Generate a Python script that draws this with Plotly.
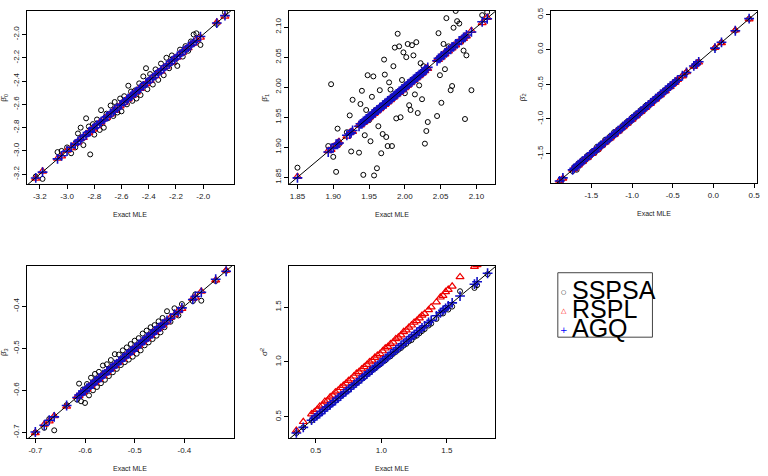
import plotly.graph_objects as go

# ---------------- data ----------------
# Panel 1: beta0
exact_b0 = [-3.23,-3.18,-3.07,-3.04,-3.00,-2.97,-2.94,-2.92,-2.90,-2.88,
            -2.86,-2.84,-2.83,-2.81,-2.80,-2.78,-2.76,-2.75,-2.73,-2.71,
            -2.70,-2.68,-2.66,-2.65,-2.63,-2.61,-2.60,-2.58,-2.56,-2.55,
            -2.53,-2.52,-2.50,-2.49,-2.47,-2.46,-2.44,-2.42,-2.41,-2.39,
            -2.37,-2.35,-2.33,-2.31,-2.29,-2.27,-2.25,-2.23,-2.21,-2.19,
            -2.17,-2.15,-2.13,-2.11,-2.09,-2.07,-2.05,-2.02,-1.90,-1.84]
sspsa_b0 = [-3.22,-3.24,-3.01,-3.00,-2.97,-3.02,-2.97,-2.85,-2.80,-2.95,
            -2.72,-2.79,-3.03,-2.77,-2.86,-2.73,-2.82,-2.65,-2.80,-2.68,
            -2.72,-2.61,-2.70,-2.58,-2.67,-2.55,-2.66,-2.53,-2.60,-2.44,
            -2.49,-2.57,-2.48,-2.55,-2.42,-2.52,-2.36,-2.29,-2.47,-2.34,
            -2.43,-2.30,-2.39,-2.25,-2.35,-2.20,-2.29,-2.18,-2.24,-2.27,
            -2.13,-2.19,-2.10,-2.14,-2.06,-2.00,-1.99,-2.09,-1.91,-1.81]
rspl_b0 = [-3.235,-3.175,-3.065,-3.045,-2.995,-2.975,-2.935,-2.925,-2.895,-2.885,
           -2.855,-2.845,-2.825,-2.815,-2.795,-2.785,-2.755,-2.755,-2.725,-2.715,
           -2.695,-2.685,-2.655,-2.655,-2.625,-2.615,-2.595,-2.585,-2.555,-2.555,
           -2.525,-2.525,-2.495,-2.495,-2.465,-2.465,-2.435,-2.425,-2.405,-2.395,
           -2.365,-2.355,-2.325,-2.315,-2.285,-2.275,-2.245,-2.235,-2.205,-2.195,
           -2.165,-2.155,-2.125,-2.115,-2.085,-2.075,-2.045,-2.025,-1.895,-1.845]
agq_b0 = [-3.232,-3.182,-3.068,-3.042,-3.002,-2.968,-2.942,-2.918,-2.902,-2.878,
          -2.862,-2.838,-2.832,-2.808,-2.802,-2.778,-2.762,-2.748,-2.732,-2.708,
          -2.702,-2.678,-2.662,-2.648,-2.632,-2.608,-2.602,-2.578,-2.562,-2.548,
          -2.532,-2.518,-2.502,-2.488,-2.472,-2.458,-2.442,-2.418,-2.412,-2.388,
          -2.372,-2.348,-2.332,-2.308,-2.292,-2.268,-2.252,-2.228,-2.212,-2.188,
          -2.172,-2.148,-2.132,-2.108,-2.092,-2.068,-2.052,-2.018,-1.902,-1.838]

# Panel 2: beta1
exact_b1 = [1.850,1.893,1.897,1.900,1.904,1.906,1.908,1.919,1.923,1.925,
            1.927,1.936,1.938,1.940,1.942,1.944,1.946,1.948,1.950,1.952,
            1.954,1.956,1.957,1.959,1.961,1.963,1.965,1.967,1.969,1.971,
            1.972,1.974,1.976,1.978,1.980,1.982,1.984,1.986,1.988,1.990,
            1.992,1.994,1.996,1.998,2.000,2.002,2.004,2.006,2.008,2.010,
            2.012,2.014,2.016,2.018,2.020,2.022,2.024,2.026,2.028,2.030,
            2.032,2.045,2.047,2.049,2.051,2.054,2.056,2.058,2.061,2.064,
            2.066,2.068,2.071,2.073,2.076,2.079,2.082,2.084,2.086,2.093,
            2.108,2.115]
sspsa_b1 = [1.866,1.902,2.005,1.884,1.859,1.931,1.905,1.925,1.953,1.893,
            1.979,1.891,1.972,1.994,1.854,1.920,1.962,2.020,1.945,1.910,
            1.984,2.018,1.853,1.962,1.865,1.935,1.995,1.890,1.922,2.046,
            2.021,1.917,1.902,2.008,1.996,1.902,2.035,2.066,1.948,2.089,
            2.068,1.950,2.012,2.058,1.990,2.050,2.072,1.970,1.962,2.070,
            2.053,1.988,2.075,1.957,2.003,2.040,1.980,2.035,1.906,1.927,
            1.942,1.952,2.090,2.020,1.974,2.072,2.030,2.115,2.068,1.995,
            2.002,2.099,2.127,2.110,2.106,2.076,2.061,1.947,2.053,1.995,
            2.120,2.125]
rspl_b1 = [1.851,1.894,1.896,1.901,1.903,1.907,1.909,1.918,1.924,1.926,
           1.926,1.937,1.937,1.941,1.941,1.945,1.945,1.949,1.949,1.953,
           1.953,1.957,1.956,1.960,1.960,1.964,1.964,1.968,1.968,1.972,
           1.971,1.975,1.975,1.979,1.979,1.983,1.983,1.987,1.987,1.991,
           1.991,1.995,1.995,1.999,1.999,2.003,2.003,2.007,2.007,2.011,
           2.011,2.015,2.015,2.019,2.019,2.023,2.023,2.027,2.027,2.031,
           2.031,2.046,2.046,2.050,2.050,2.055,2.055,2.059,2.060,2.065,
           2.065,2.069,2.070,2.074,2.075,2.080,2.081,2.085,2.085,2.094,
           2.107,2.116]
agq_b1 = [1.849,1.892,1.898,1.899,1.905,1.905,1.907,1.920,1.922,1.924,
          1.928,1.935,1.939,1.939,1.943,1.943,1.947,1.947,1.951,1.951,
          1.955,1.955,1.958,1.958,1.962,1.962,1.966,1.966,1.970,1.970,
          1.973,1.973,1.977,1.977,1.981,1.981,1.985,1.985,1.989,1.989,
          1.993,1.993,1.997,1.997,2.001,2.001,2.005,2.005,2.009,2.009,
          2.013,2.013,2.017,2.017,2.021,2.021,2.025,2.025,2.029,2.029,
          2.033,2.044,2.048,2.048,2.052,2.053,2.057,2.057,2.062,2.063,
          2.067,2.067,2.072,2.072,2.077,2.078,2.083,2.083,2.087,2.092,
          2.109,2.114]

# Panel 3: beta2
exact_b2 = [-1.89,-1.85,-1.73,-1.71,-1.68,-1.66,-1.64,-1.61,-1.58,-1.55,
            -1.52,-1.49,-1.46,-1.43,-1.41,-1.38,-1.35,-1.33,-1.30,-1.27,
            -1.25,-1.22,-1.19,-1.17,-1.14,-1.11,-1.09,-1.06,-1.03,-1.00,
            -0.98,-0.95,-0.92,-0.89,-0.86,-0.83,-0.80,-0.77,-0.74,-0.71,
            -0.68,-0.65,-0.62,-0.59,-0.56,-0.53,-0.50,-0.47,-0.44,-0.38,
            -0.33,-0.24,-0.21,-0.18,0.02,0.10,0.27,0.44]
sspsa_b2 = [-1.89,-1.86,-1.75,-1.69,-1.73,-1.64,-1.66,-1.59,-1.60,-1.53,
            -1.54,-1.47,-1.49,-1.40,-1.44,-1.36,-1.37,-1.30,-1.32,-1.25,
            -1.27,-1.19,-1.21,-1.15,-1.16,-1.09,-1.11,-1.04,-1.05,-0.98,
            -1.00,-0.93,-0.94,-0.87,-0.88,-0.81,-0.82,-0.76,-0.75,-0.70,
            -0.69,-0.64,-0.63,-0.58,-0.57,-0.52,-0.51,-0.46,-0.45,-0.38,
            -0.33,-0.24,-0.21,-0.18,0.02,0.10,0.27,0.44]
rspl_b2 = [-1.885,-1.855,-1.725,-1.715,-1.675,-1.665,-1.635,-1.615,-1.575,-1.555,
           -1.515,-1.495,-1.455,-1.435,-1.405,-1.385,-1.345,-1.335,-1.295,-1.275,
           -1.245,-1.225,-1.185,-1.175,-1.135,-1.115,-1.085,-1.065,-1.025,-1.005,
           -0.975,-0.955,-0.915,-0.895,-0.855,-0.835,-0.795,-0.775,-0.735,-0.715,
           -0.675,-0.655,-0.615,-0.595,-0.555,-0.535,-0.495,-0.475,-0.435,-0.385,
           -0.325,-0.245,-0.205,-0.185,0.025,0.095,0.275,0.435]
agq_b2 = [-1.892,-1.848,-1.732,-1.708,-1.682,-1.658,-1.642,-1.608,-1.582,-1.548,
          -1.522,-1.488,-1.462,-1.428,-1.412,-1.378,-1.352,-1.328,-1.302,-1.268,
          -1.252,-1.218,-1.192,-1.168,-1.142,-1.108,-1.092,-1.058,-1.032,-0.998,
          -0.982,-0.948,-0.922,-0.888,-0.862,-0.828,-0.802,-0.768,-0.742,-0.708,
          -0.682,-0.648,-0.622,-0.588,-0.562,-0.528,-0.502,-0.468,-0.442,-0.378,
          -0.332,-0.238,-0.212,-0.178,0.018,0.102,0.268,0.442]

# Panel 4: beta3
exact_b3 = [-0.700,-0.682,-0.672,-0.662,-0.637,-0.616,-0.612,-0.608,-0.604,-0.600,
            -0.596,-0.592,-0.588,-0.584,-0.580,-0.576,-0.572,-0.568,-0.564,-0.560,
            -0.556,-0.552,-0.548,-0.544,-0.540,-0.536,-0.532,-0.528,-0.524,-0.520,
            -0.516,-0.512,-0.508,-0.504,-0.500,-0.496,-0.492,-0.488,-0.484,-0.480,
            -0.476,-0.472,-0.468,-0.464,-0.460,-0.456,-0.452,-0.448,-0.444,-0.440,
            -0.435,-0.428,-0.420,-0.412,-0.405,-0.383,-0.378,-0.366,-0.337,-0.316]
sspsa_b3 = [-0.700,-0.689,-0.668,-0.695,-0.635,-0.622,-0.584,-0.626,-0.598,-0.630,
            -0.585,-0.612,-0.570,-0.600,-0.561,-0.592,-0.556,-0.583,-0.541,-0.575,
            -0.538,-0.566,-0.528,-0.557,-0.514,-0.549,-0.515,-0.540,-0.505,-0.533,
            -0.498,-0.527,-0.490,-0.520,-0.482,-0.513,-0.476,-0.505,-0.465,-0.493,
            -0.458,-0.486,-0.450,-0.478,-0.445,-0.470,-0.436,-0.462,-0.428,-0.450,
            -0.412,-0.437,-0.405,-0.422,-0.395,-0.388,-0.372,-0.387,-0.340,-0.316]
rspl_b3 = [-0.701,-0.681,-0.673,-0.661,-0.638,-0.615,-0.613,-0.607,-0.605,-0.599,
           -0.597,-0.591,-0.589,-0.583,-0.581,-0.575,-0.573,-0.567,-0.565,-0.559,
           -0.557,-0.551,-0.549,-0.543,-0.541,-0.535,-0.533,-0.527,-0.525,-0.519,
           -0.517,-0.511,-0.509,-0.503,-0.501,-0.495,-0.493,-0.487,-0.485,-0.479,
           -0.477,-0.471,-0.469,-0.463,-0.461,-0.455,-0.453,-0.447,-0.445,-0.439,
           -0.436,-0.427,-0.421,-0.411,-0.406,-0.382,-0.379,-0.365,-0.338,-0.315]
agq_b3 = [-0.699,-0.683,-0.671,-0.663,-0.636,-0.617,-0.611,-0.609,-0.603,-0.601,
          -0.595,-0.593,-0.587,-0.585,-0.579,-0.577,-0.571,-0.569,-0.563,-0.561,
          -0.555,-0.553,-0.547,-0.545,-0.539,-0.537,-0.531,-0.529,-0.523,-0.521,
          -0.515,-0.513,-0.507,-0.505,-0.499,-0.497,-0.491,-0.489,-0.483,-0.481,
          -0.475,-0.473,-0.467,-0.465,-0.459,-0.457,-0.451,-0.449,-0.443,-0.441,
          -0.434,-0.429,-0.419,-0.413,-0.404,-0.384,-0.377,-0.367,-0.336,-0.317]

# Panel 5: sigma^2
exact_s2 = [0.352,0.405,0.468,0.490,0.510,0.530,0.550,0.570,0.590,0.610,
            0.630,0.650,0.670,0.690,0.710,0.730,0.750,0.770,0.790,0.810,
            0.830,0.850,0.870,0.890,0.910,0.930,0.950,0.970,0.990,1.010,
            1.030,1.050,1.070,1.090,1.110,1.130,1.150,1.170,1.190,1.210,
            1.230,1.250,1.270,1.290,1.310,1.330,1.360,1.380,1.420,1.450,
            1.470,1.490,1.510,1.540,1.600,1.710,1.730,1.810]
sspsa_s2 = [0.352,0.404,0.466,0.489,0.508,0.529,0.547,0.569,0.586,0.609,
            0.627,0.648,0.666,0.688,0.706,0.728,0.745,0.768,0.784,0.806,
            0.825,0.846,0.862,0.885,0.902,0.925,0.940,0.962,0.978,1.000,
            1.015,1.038,1.052,1.075,1.092,1.112,1.128,1.150,1.165,1.188,
            1.200,1.228,1.240,1.262,1.282,1.300,1.332,1.350,1.392,1.440,
            1.442,1.495,1.478,1.505,1.645,1.675,1.700,1.800]
rspl_s2 = [0.375,0.455,0.525,0.545,0.565,0.595,0.605,0.640,0.650,0.680,
           0.695,0.725,0.740,0.765,0.785,0.805,0.830,0.845,0.870,0.895,
           0.910,0.935,0.955,0.975,1.000,1.015,1.040,1.060,1.075,1.100,
           1.125,1.140,1.165,1.180,1.210,1.225,1.245,1.275,1.290,1.315,
           1.335,1.360,1.375,1.400,1.425,1.440,1.475,1.500,1.545,1.590,
           1.605,1.640,1.660,1.690,1.775,1.870,1.885,1.960]
agq_s2 = [0.353,0.404,0.469,0.489,0.511,0.529,0.551,0.569,0.591,0.609,
          0.631,0.649,0.671,0.689,0.711,0.729,0.751,0.769,0.791,0.809,
          0.831,0.849,0.871,0.889,0.911,0.929,0.951,0.969,0.991,1.009,
          1.031,1.049,1.071,1.089,1.111,1.129,1.151,1.169,1.191,1.209,
          1.231,1.249,1.271,1.289,1.311,1.329,1.361,1.379,1.421,1.449,
          1.471,1.489,1.511,1.539,1.601,1.709,1.731,1.809]

# tick labels
ticks_b0 = [-3.2, -3.0, -2.8, -2.6, -2.4, -2.2, -2.0]
labels_b0 = ["-3.2", "-3.0", "-2.8", "-2.6", "-2.4", "-2.2", "-2.0"]
ticks_b1 = [1.85, 1.90, 1.95, 2.00, 2.05, 2.10]
labels_b1 = ["1.85", "1.90", "1.95", "2.00", "2.05", "2.10"]
ticks_b2 = [-1.5, -1.0, -0.5, 0.0, 0.5]
labels_b2 = ["-1.5", "-1.0", "-0.5", "0.0", "0.5"]
ticks_b3 = [-0.7, -0.6, -0.5, -0.4]
labels_b3 = ["-0.7", "-0.6", "-0.5", "-0.4"]
ticks_s2 = [0.5, 1.0, 1.5]
labels_s2 = ["0.5", "1.0", "1.5"]

series_names = ["SSPSA", "RSPL", "AGQ"]
x_title = "Exact MLE"

# ---------------- layout helpers ----------------
W, H = 768, 476
FONT = "Liberation Sans, Arial, Helvetica, sans-serif"


def px(x):
    return x / W


def py(y):
    return 1 - y / H


panels = [
    dict(ex=exact_b0, ss=sspsa_b0, rs=rspl_b0, aq=agq_b0,
         xr=[-3.295, -1.773], yr=[-3.288, -1.798], tv=ticks_b0, tt=labels_b0,
         ylab="β\u0302<sub>0</sub>", box=(27, 235, 7, 182), ylx=4),
    dict(ex=exact_b1, ss=sspsa_b1, rs=rspl_b1, aq=agq_b1,
         xr=[1.838, 2.126], yr=[1.838, 2.127], tv=ticks_b1, tt=labels_b1,
         ylab="β\u0302<sub>1</sub>", box=(290, 497, 7, 182), ylx=266),
    dict(ex=exact_b2, ss=sspsa_b2, rs=rspl_b2, aq=agq_b2,
         xr=[-1.998, 0.537], yr=[-1.928, 0.553], tv=ticks_b2, tt=labels_b2,
         ylab="β\u0302<sub>2</sub>", box=(553, 760, 7, 181), ylx=525),
    dict(ex=exact_b3, ss=sspsa_b3, rs=rspl_b3, aq=agq_b3,
         xr=[-0.717, -0.300], yr=[-0.714, -0.304], tv=ticks_b3, tt=labels_b3,
         ylab="β\u0302<sub>3</sub>", box=(27, 235, 264, 438), ylx=4),
    dict(ex=exact_s2, ss=sspsa_s2, rs=rspl_s2, aq=agq_s2,
         xr=[0.295, 1.867], yr=[0.304, 1.877], tv=ticks_s2, tt=labels_s2,
         ylab="σ\u0302<sup>2</sup>", box=(290, 497, 264, 438), ylx=265),
]

fig = go.Figure()
shapes = []
annotations = []
layout_axes = {}

for i, p in enumerate(panels, start=1):
    sfx = "" if i == 1 else str(i)
    xa, ya = "x" + sfx, "y" + sfx
    l, r, t, b = p["box"]
    fig.add_trace(go.Scatter(
        x=p["ex"], y=p["ss"], mode="markers", xaxis=xa, yaxis=ya, showlegend=False,
        marker=dict(symbol="circle-open", size=5, color="black", line=dict(width=1, color="black"))))
    fig.add_trace(go.Scatter(
        x=p["ex"], y=p["rs"], mode="markers", xaxis=xa, yaxis=ya, showlegend=False,
        marker=dict(symbol="triangle-up-open", size=7, color="#ee0000", line=dict(width=1.2, color="#ee0000"))))
    fig.add_trace(go.Scatter(
        x=p["ex"], y=p["aq"], mode="markers", xaxis=xa, yaxis=ya, showlegend=False,
        marker=dict(symbol="cross-thin", size=7, color="#1010c8", line=dict(width=1.6, color="#1010c8"))))

    axis_common = dict(showgrid=False, zeroline=False, showline=True, mirror=True,
                       linecolor="black", linewidth=1, ticks="outside", ticklen=4,
                       tickwidth=1, tickcolor="black", tickmode="array",
                       tickvals=p["tv"], ticktext=p["tt"],
                       tickfont=dict(family=FONT, size=8, color="#222"))
    layout_axes["xaxis" + sfx] = dict(axis_common, domain=[px(l), px(r)], range=p["xr"],
                                      anchor=ya)
    layout_axes["yaxis" + sfx] = dict(axis_common, domain=[py(b), py(t)], range=p["yr"],
                                      anchor=xa, tickangle=-90)
    lo = min(p["xr"][0], p["yr"][0])
    hi = max(p["xr"][1], p["yr"][1])
    shapes.append(dict(type="line", xref=xa, yref=ya, x0=lo, y0=lo, x1=hi, y1=hi,
                       line=dict(color="black", width=1), layer="above"))
    # axis titles
    annotations.append(dict(text=x_title, xref="paper", yref="paper",
                            x=px((l + r) / 2), y=py(b + 30), xanchor="center", yanchor="middle",
                            showarrow=False, font=dict(family=FONT, size=7, color="#222")))
    annotations.append(dict(text=p["ylab"], xref="paper", yref="paper",
                            x=px(p["ylx"]), y=py((t + b) / 2), xanchor="center", yanchor="middle",
                            textangle=-90, showarrow=False,
                            font=dict(family=FONT, size=8, color="#222")))

# legend panel
shapes.append(dict(type="rect", xref="paper", yref="paper",
                   x0=px(560), x1=px(655), y0=py(336), y1=py(271),
                   line=dict(color="#444", width=1), fillcolor="rgba(0,0,0,0)"))
leg_rows = [290.7, 309.8, 329.3]
leg_sym = ["○", "△", "+"]
leg_col = ["black", "red", "blue"]
leg_size = [6, 7, 9]
for name, yc, sym, col, sz in zip(series_names, leg_rows, leg_sym, leg_col, leg_size):
    annotations.append(dict(text=name, xref="paper", yref="paper", x=px(572), y=py(yc - 2.5),
                            xanchor="left", yanchor="middle", showarrow=False,
                            font=dict(family=FONT, size=25, color="black")))
    annotations.append(dict(text=sym, xref="paper", yref="paper", x=px(566), y=py(yc - 0.5),
                            xanchor="center", yanchor="middle", showarrow=False,
                            font=dict(family="DejaVu Sans, sans-serif", size=sz, color=col)))

fig.update_layout(
    width=W, height=H, margin=dict(l=0, r=0, t=0, b=0),
    paper_bgcolor="white", plot_bgcolor="white",
    shapes=shapes, annotations=annotations, showlegend=False,
    **layout_axes,
)

fig.write_html("out.html")
